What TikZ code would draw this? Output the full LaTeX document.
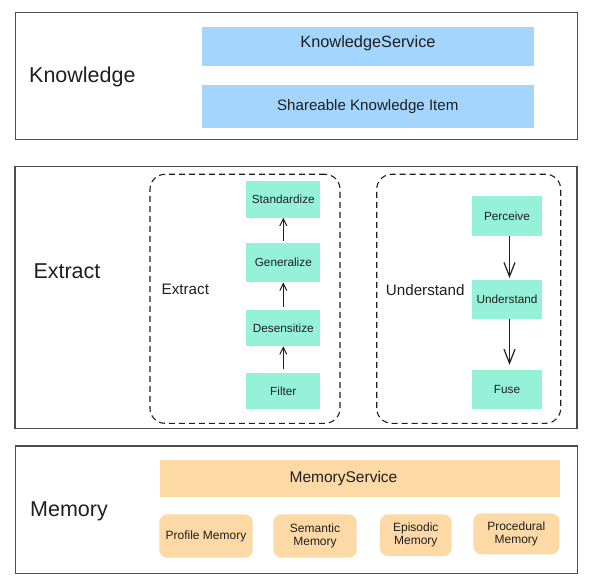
\documentclass[tikz,border=0pt]{standalone}
\usepackage{fontspec}
\setmainfont{Liberation Sans}
\usetikzlibrary{arrows.meta}
\definecolor{kblue}{HTML}{A3D5FD}
\definecolor{mint}{HTML}{95F2D8}
\definecolor{peach}{HTML}{FDD9A6}
\definecolor{edge}{HTML}{4D4D4D}
\definecolor{ink}{HTML}{1F1F1F}
\begin{document}
\begin{tikzpicture}[x=1pt,y=-1pt,
  layer/.style={draw=edge,line width=1.2pt,inner sep=0pt},
  bigsty/.style={anchor=base west,inner sep=0pt,text=ink,font=\fontsize{21.5}{24}\selectfont},
  midsty/.style={anchor=base west,inner sep=0pt,text=ink,font=\fontsize{15.2}{18}\selectfont},
  group/.style={draw=ink,line width=1.1pt,dash pattern=on 6pt off 4pt,rounded corners=15pt,inner sep=0pt},
  know/.style={fill=kblue,inner sep=0pt,text=ink},
  stepbox/.style={fill=mint,inner sep=0pt,text=ink,font=\fontsize{11.8}{14}\selectfont},
  mem/.style={fill=peach,inner sep=0pt,text=ink,align=center,font=\fontsize{12}{13.3}\selectfont},
  memtext/.style={rounded corners=8pt},
  smallarr/.style={draw=ink,line width=1pt,-{Straight Barb[length=7pt,width=7pt]}},
  bigarr/.style={draw=ink,line width=1.2pt,-{Straight Barb[length=14pt,width=11pt]}}]

  \useasboundingbox (0,0) rectangle (597,588);

  \draw node[layer,minimum width=562pt,minimum height=127pt] (klayer) at (296.5,76) {};
  \draw node[bigsty] (klab) at (29,82.3) {Knowledge};
  \draw node[know,minimum width=332pt,minimum height=39pt,text height=11.5pt,text depth=8.5pt,
    font=\fontsize{16.3}{19}\selectfont] (kservice) at (368,46.2) {KnowledgeService};
  \draw node[know,minimum width=331.5pt,minimum height=43.3pt,
    font=\fontsize{15.1}{18}\selectfont] (kitem) at (367.8,106.7) {Shareable Knowledge Item};

  \draw node[layer,minimum width=562pt,minimum height=262pt] (elayer) at (296,297.5) {};
  \draw node[bigsty] (elab) at (33.3,278.3) {Extract};

  \draw node[group,minimum width=190pt,minimum height=249pt] (extgroup) at (245,298.8) {};
  \draw node[midsty] (extlab) at (161.5,294.3) {Extract};
  \draw node[stepbox,minimum width=74pt,minimum height=36.7pt] (std) at (283.3,199.3) {Standardize};
  \draw node[stepbox,minimum width=74pt,minimum height=39.6pt] (gen) at (283.3,262.5) {Generalize};
  \draw node[stepbox,minimum width=74pt,minimum height=36pt] (des) at (283.3,328) {Desensitize};
  \draw node[stepbox,minimum width=74pt,minimum height=36.6pt] (fil) at (283.3,391) {Filter};
  \draw[smallarr,shorten <=3.5pt] (fil) -- (des);
  \draw[smallarr,shorten <=3.3pt] (des) -- (gen);
  \draw[smallarr,shorten <=1.7pt] (gen) -- (std);

  \draw node[group,minimum width=184pt,minimum height=249pt] (undgroup) at (468.7,298.8) {};
  \draw node[midsty] (undlab) at (385.7,295) {Understand};
  \draw node[stepbox,minimum width=70pt,minimum height=40pt] (perc) at (507,216) {Perceive};
  \draw node[stepbox,minimum width=70pt,minimum height=39pt] (und) at (507,299.5) {Understand};
  \draw node[stepbox,minimum width=70pt,minimum height=39.3pt] (fuse) at (507,389.7) {Fuse};
  \draw[bigarr,shorten >=1.7pt] ([xshift=2.5pt]perc.south) -- ([xshift=2.5pt]und.north);
  \draw[bigarr,shorten >=5pt] ([xshift=2.5pt]und.south) -- ([xshift=2.5pt]fuse.north);

  \draw node[layer,minimum width=562pt,minimum height=127.5pt] (mlayer) at (296.5,509.75) {};
  \draw node[bigsty] (mlab) at (30,516.7) {Memory};
  \draw node[mem,minimum width=400pt,minimum height=37pt,
    font=\fontsize{15.5}{18}\selectfont] (mservice) at (360,478.5) {\hspace*{-33pt}MemoryService};
  \draw node[mem,memtext,minimum width=93.4pt,minimum height=43.4pt] (prof) at (206,536) {Profile Memory};
  \draw node[mem,memtext,minimum width=83.4pt,minimum height=43.4pt] (sem) at (315,536) {Semantic\\Memory};
  \draw node[mem,memtext,minimum width=71.7pt,minimum height=41.7pt] (epi) at (415.8,535.2) {Episodic\\Memory};
  \draw node[mem,memtext,minimum width=86pt,minimum height=41pt] (proc) at (516.3,533.8) {Procedural\\Memory};

\end{tikzpicture}
\end{document}
